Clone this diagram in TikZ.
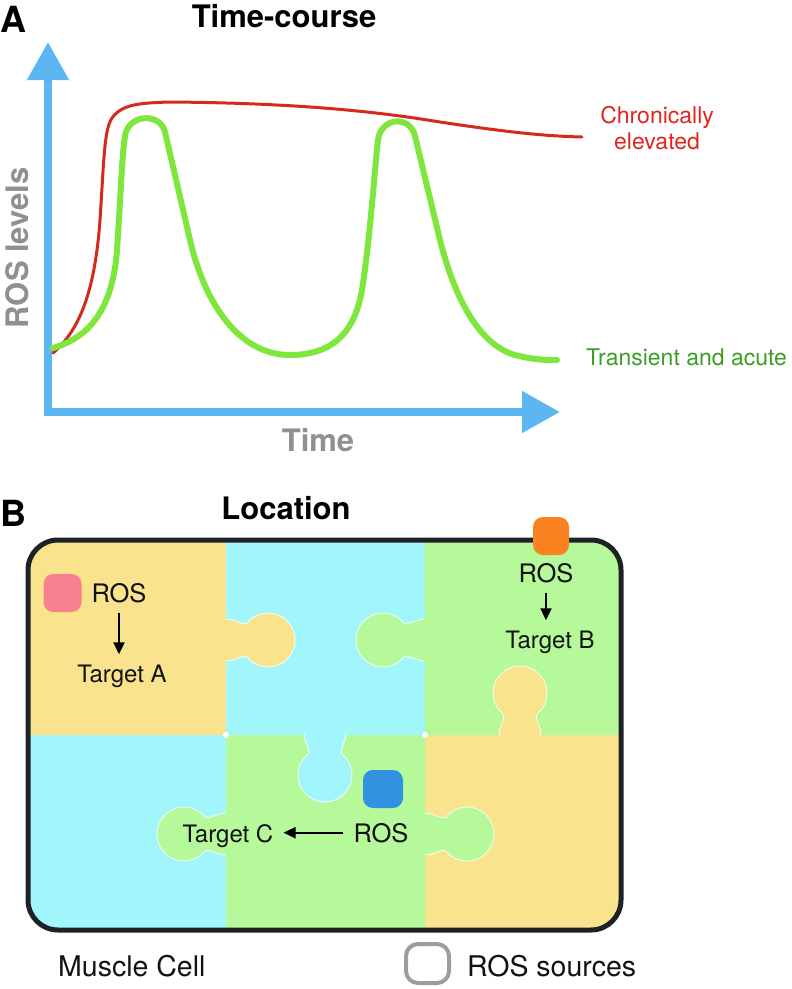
\documentclass[tikz,border=0pt]{standalone}
\usepackage{fontspec}
\setmainfont{TeX Gyre Heros}
\usetikzlibrary{arrows.meta}

\definecolor{axisblue}{HTML}{5CB6F2}
\definecolor{axisgray}{HTML}{8D9191}
\definecolor{chronred}{HTML}{D42A1C}
\definecolor{chrontext}{HTML}{E0251E}
\definecolor{acutegreen}{HTML}{7EE63C}
\definecolor{acutetext}{HTML}{3C9E24}
\definecolor{pieceyellow}{HTML}{F9E38C}
\definecolor{piececyan}{HTML}{A0F6FB}
\definecolor{piecegreen}{HTML}{B6F99A}
\definecolor{rospink}{HTML}{F7818F}
\definecolor{rosorange}{HTML}{FA8220}
\definecolor{rosblue}{HTML}{3292E2}
\definecolor{cellframe}{HTML}{1E2226}
\definecolor{legendgray}{HTML}{9A9E9E}

% one puzzle knob: base point, direction, colour
\newcommand\knob[4]{%
    \begin{scope}[shift={(#1,#2)}, rotate=#3]
        \fill[#4] (-3,21) -- (0,21)
            .. controls (9,21) and (18.1,13.5) .. (21.3,17.4)
            arc (140:-140:27)
            .. controls (18.1,-13.5) and (9,-21) .. (0,-21)
            -- (-3,-21) -- cycle;
        \draw[knobrim] (0,21)
            .. controls (9,21) and (18.1,13.5) .. (21.3,17.4)
            arc (140:-140:27)
            .. controls (18.1,-13.5) and (9,-21) .. (0,-21);
    \end{scope}}

\begin{document}
\begin{tikzpicture}[
    x=1pt,
    y=-1pt,
    axis/.style={
        draw=axisblue,
        line width=8pt,
        {Triangle[width=40pt,length=38pt]}-{Triangle[width=40pt,length=38pt]}
    },
    chronic/.style={draw=chronred, line width=3pt, line cap=round},
    acute/.style={draw=acutegreen, line width=6pt, line cap=round, line join=round},
    panel/.style={font=\fontsize{36}{40}\selectfont\bfseries, inner sep=0},
    heading/.style={font=\fontsize{31}{37}\selectfont\bfseries, inner sep=0},
    axislabel/.style={font=\fontsize{31}{37}\selectfont\bfseries, text=axisgray, inner sep=0},
    curvelabel/.style={font=\fontsize{23}{26}\selectfont, inner sep=0},
    celltext/.style={font=\fontsize{24}{28}\selectfont, text=black!93, inner sep=0},
    roslabel/.style={font=\fontsize{25.5}{30}\selectfont, text=black!93, inner sep=0},
    legendtext/.style={font=\fontsize{28.5}{34}\selectfont, text=black!93, inner sep=0},
    rosbox/.style={
        minimum width=38pt,
        minimum height=38pt,
        rounded corners=10pt,
        inner sep=0
    },
    knobrim/.style={draw=white, line width=0.9pt, draw opacity=0.8},
    link/.style={
        draw=black,
        line width=2pt,
        -{Triangle[width=11pt,length=12pt]},
        shorten <=10pt,
        shorten >=10pt
    }
]

% page size as the reference
\useasboundingbox (0,0) rectangle (792,989);

% ---------- Panel A ----------
\node[panel, anchor=base west] (labA) at (0,32) {A};
\node[heading, anchor=base] (titleA) at (284,27) {Time-course};

% axes
\coordinate (ytip) at (48,42);
\coordinate (xtip) at (560,412);
\draw[axis] (ytip) |- (xtip);

\node[axislabel, rotate=90] (ylab) at (17,248) {ROS levels};
\node[axislabel, anchor=base] (xlab) at (318,451) {Time};

% chronically elevated
\draw[chronic] (53,353)
    .. controls (80,330) and (95,290) .. (100,220)
    .. controls (104,160) and (104,130) .. (112,118)
    .. controls (122,104) and (140,103) .. (170,102)
    .. controls (300,103) and (380,112) .. (440,122)
    .. controls (500,131) and (540,136) .. (582,137);

% transient and acute
\draw[acute] (53,348)
    .. controls (80,340) and (112,320) .. (117,250)
    .. controls (121,190) and (122,155) .. (125,136)
    .. controls (128,114) and (160,112) .. (165,132)
    -- (190,240)
    .. controls (205,305) and (240,355) .. (290,355)
    .. controls (335,355) and (355,330) .. (362,290)
    .. controls (370,240) and (375,165) .. (378,140)
    .. controls (381,117) and (410,115) .. (415,136)
    -- (440,240)
    .. controls (455,300) and (480,345) .. (515,355)
    .. controls (535,360) and (545,360) .. (557,360);

\node[curvelabel, text=chrontext, align=center] (chronlab) at (657,128)
    {Chronically\\elevated};
\node[curvelabel, text=acutetext, anchor=base west] (acutelab) at (586,365)
    {Transient and acute};

% ---------- Panel B ----------
\node[panel, anchor=base west] (labB) at (0,526) {B};
\node[heading, anchor=base] (titleB) at (286,519) {Location};

% puzzle pieces inside the cell
\begin{scope}
    \clip[rounded corners=30pt] (28,540) rectangle (621,930);
    \fill[pieceyellow] (28,540) rectangle (226,735);
    \fill[piececyan] (226,540) rectangle (425,735);
    \fill[piecegreen] (425,540) rectangle (621,735);
    \fill[piececyan] (28,735) rectangle (226,930);
    \fill[piecegreen] (226,735) rectangle (425,930);
    \fill[pieceyellow] (425,735) rectangle (621,930);

    \knob{226}{640}{0}{pieceyellow}
    \knob{425}{640}{180}{piecegreen}
    \knob{520}{735}{90}{pieceyellow}
    \knob{325}{733}{-90}{piececyan}
    \knob{226}{834}{180}{piecegreen}
    \knob{425}{834}{0}{piecegreen}

    \fill[white] (226,735) circle (3) (425,735) circle (3);
\end{scope}

% cell membrane
\draw[draw=cellframe, line width=5pt, rounded corners=30pt]
    (28,540) rectangle (621,930);

% ROS sources and their targets
\node[rosbox, fill=rospink] (srcA) at (62.5,593) {};
\node[roslabel, anchor=base] (rosA) at (119,602) {ROS};
\node[celltext, anchor=base] (tgtA) at (122,682) {Target A};
\draw[link] (rosA.south) -- (rosA.south |- tgtA.north);

\node[rosbox, fill=rosorange, minimum width=36pt] (srcB) at (551,536) {};
\node[roslabel, anchor=base] (rosB) at (546,582) {ROS};
\node[celltext, anchor=base] (tgtB) at (550,648) {Target B};
\draw[link] (rosB.south) -- (rosB.south |- tgtB.north);

\node[rosbox, fill=rosblue, minimum width=40pt] (srcC) at (383,789) {};
\node[roslabel, anchor=base] (rosC) at (381,842) {ROS};
\node[celltext, anchor=base] (tgtC) at (228,842) {Target C};
\draw[link] (rosC.west) -- (rosC.west -| tgtC.east);

% legend
\node[legendtext, anchor=base west] (celllab) at (58,976) {Muscle Cell};
\node[rosbox, draw=legendgray, line width=4pt, minimum width=43pt,
    minimum height=39pt, rounded corners=12pt] (legbox) at (427.5,963.5) {};
\node[legendtext, anchor=base west] (leglab) at (467,976) {ROS sources};

\end{tikzpicture}
\end{document}
